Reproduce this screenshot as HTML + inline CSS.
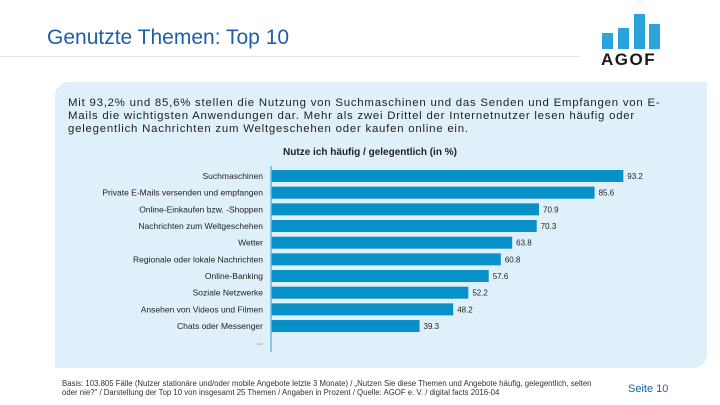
<!DOCTYPE html>
<html><head><meta charset="utf-8"><style>
body{margin:0;width:720px;height:405px;background:#fff;font-family:"Liberation Sans",sans-serif;position:relative;overflow:hidden}
.abs{position:absolute}
</style></head><body>
<div class="abs" style="left:47px;top:26px;font-size:21px;color:#1d5fa8">Genutzte Themen: Top 10</div>
<div class="abs" style="left:0;top:56px;width:580px;height:1px;background:#dfe8f2"></div>
<svg class="abs" style="left:600px;top:10px" width="70" height="40">
<rect x="2" y="23" width="11" height="16" fill="#29a5dc"/><rect x="18" y="18" width="11" height="21" fill="#29a5dc"/><rect x="34" y="4" width="11" height="35" fill="#29a5dc"/><rect x="49" y="14" width="11" height="25" fill="#29a5dc"/>
</svg>
<div class="abs" style="left:601px;top:50px;font-size:17px;font-weight:bold;color:#1a1a1a;letter-spacing:1.5px">AGOF</div>
<div class="abs" style="left:55px;top:82px;width:652px;height:286px;background:#dff0fb;border-radius:14px 0 14px 0"></div>
<div class="abs" style="left:68px;top:97px;white-space:nowrap;font-size:11.4px;letter-spacing:0.78px;line-height:13px;color:#222">Mit 93,2% und 85,6% stellen die Nutzung von Suchmaschinen und das Senden und Empfangen von E-<br>Mails die wichtigsten Anwendungen dar. Mehr als zwei Drittel der Internetnutzer lesen häufig oder<br>gelegentlich Nachrichten zum Weltgeschehen oder kaufen online ein.</div>
<div class="abs" style="left:0;width:740px;text-align:center;top:147px;font-size:10px;font-weight:bold;color:#222">Nutze ich häufig / gelegentlich (in %)</div>
<svg class="abs" id="chart" style="left:0;top:0" width="720" height="405"></svg>
<div class="abs" style="left:62px;top:379px;white-space:nowrap;font-size:7.8px;line-height:9px;color:#333">Basis: 103.805 Fälle (Nutzer stationäre und/oder mobile Angebote letzte 3 Monate) / „Nutzen Sie diese Themen und Angebote häufig, gelegentlich, selten<br>oder nie?" / Darstellung der Top 10 von insgesamt 25 Themen / Angaben in Prozent / Quelle: AGOF e. V. / digital facts 2016-04</div>
<div class="abs" style="left:628px;top:383px;font-size:11px;color:#1d5fa8">Seite 10</div>
<script>
const categories=["Suchmaschinen","Private E-Mails versenden und empfangen","Online-Einkaufen bzw. -Shoppen","Nachrichten zum Weltgeschehen","Wetter","Regionale oder lokale Nachrichten","Online-Banking","Soziale Netzwerke","Ansehen von Videos und Filmen","Chats oder Messenger"];
const values=[93.2,85.6,70.9,70.3,63.8,60.8,57.6,52.2,48.2,39.3];
const svg=document.getElementById('chart');const NS='http://www.w3.org/2000/svg';
const x0=271,sc=3.78,y0=176,step=16.67,bh=12;
const xs=v=>x0+v*sc, ys=i=>y0+i*step;
function mk(t,a){const e=document.createElementNS(NS,t);for(const k in a)e.setAttribute(k,a[k]);svg.appendChild(e);return e;}
values.forEach((v,i)=>{
 const r=mk('rect',{x:x0,y:ys(i)-bh/2,width:xs(v)-x0,height:bh,fill:'#0891c9'});
 
 
 const t=mk('text',{x:xs(v)+4,y:ys(i)+3,'font-size':8,fill:'#222','font-family':'Liberation Sans'});t.textContent=v.toFixed(1);
 
 
 const c=mk('text',{x:x0-8,y:ys(i)+3,'font-size':8.5,fill:'#222','text-anchor':'end','font-family':'Liberation Sans'});c.textContent=categories[i];
 
 
});
const d=mk('text',{x:x0-8,y:ys(10)+2,'font-size':8,fill:'#222','text-anchor':'end'});d.textContent='...';


const ax=mk('line',{x1:x0,x2:x0,y1:166,y2:352,stroke:'#6fb8dc','stroke-width':1.5});


</script>
</body></html>
